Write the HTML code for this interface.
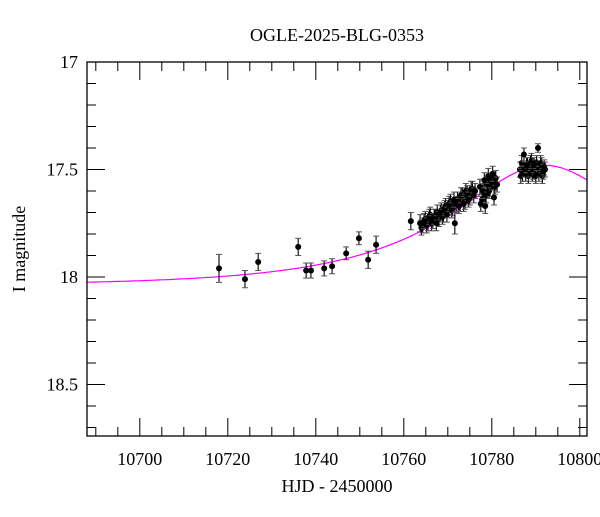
<!DOCTYPE html>
<html><head><meta charset="utf-8"><style>
body{margin:0;background:#fff}
svg text{font-family:"Liberation Serif",serif;fill:#000}
</style></head><body>
<svg id="chart" width="600" height="512" xmlns="http://www.w3.org/2000/svg">
<text x="337" y="41" font-size="18" text-anchor="middle">OGLE-2025-BLG-0353</text>
<g id="ticks"></g>
<path id="model" fill="none" stroke="#ff00ff" stroke-width="1.2"/>
<g id="pts"></g>
<rect x="87" y="62" width="500" height="374" fill="none" stroke="#000" stroke-width="1.3"/>
<text x="337" y="492" font-size="18" text-anchor="middle">HJD - 2450000</text>
<text transform="translate(25,249) rotate(-90)" font-size="18" text-anchor="middle">I magnitude</text>
</svg>
<script>
const hjd=[10718.0,10723.9,10726.9,10736.0,10737.8,10738.9,10741.9,10743.7,10746.9,10749.8,10751.9,10753.7,10761.6,
10763.7,10764.0,10764.3,10764.6,10764.9,10765.2,10765.5,10765.8,10766.0,10766.3,10766.6,10766.9,10767.1,10767.4,10767.6,10767.9,10768.0,10768.3,10768.5,10768.8,10769.0,10769.3,10769.5,10769.8,10770.0,10770.3,10770.6,10770.9,10771.1,10771.4,10771.6,10771.9,10772.2,10772.5,10772.8,10773.0,10773.3,10773.6,10773.9,10774.1,10774.4,10774.7,10775.0,10775.3,10775.6,10775.9,10776.2,
10777.3,10777.5,10777.8,10778.0,10778.3,10778.5,10778.7,10779.0,10779.2,10779.4,10779.6,10779.8,10780.0,10780.2,10780.5,10780.7,10780.9,10781.2,
10786.4,10786.6,10786.8,10787.0,10787.3,10787.5,10787.7,10787.9,10788.1,10788.3,10788.5,10788.8,10789.0,10789.2,10789.4,10789.6,10789.8,10790.0,10790.2,10790.5,10790.7,10790.9,10791.1,10791.3,10791.5,10791.7,10791.9,10792.1];
const mag=[17.96,18.01,17.93,17.86,17.97,17.97,17.96,17.95,17.89,17.82,17.92,17.85,17.74,
17.75,17.77,17.76,17.74,17.73,17.76,17.75,17.72,17.71,17.75,17.74,17.72,17.72,17.75,17.70,17.73,17.73,17.70,17.69,17.72,17.71,17.68,17.67,17.71,17.69,17.66,17.65,17.69,17.68,17.64,17.75,17.66,17.64,17.67,17.66,17.62,17.62,17.66,17.65,17.60,17.61,17.64,17.63,17.59,17.59,17.62,17.60,
17.58,17.66,17.64,17.60,17.55,17.67,17.62,17.57,17.53,17.60,17.59,17.55,17.56,17.52,17.63,17.58,17.54,17.57,
17.50,17.53,17.47,17.52,17.43,17.50,17.52,17.48,17.48,17.53,17.50,17.47,17.46,17.52,17.51,17.48,17.49,17.53,17.47,17.40,17.52,17.50,17.47,17.48,17.53,17.51,17.49,17.50];
const err=[0.065,0.04,0.04,0.04,0.035,0.035,0.035,0.035,0.03,0.03,0.04,0.04,0.04,
0.04,0.035,0.035,0.035,0.035,0.035,0.035,0.035,0.035,0.035,0.035,0.035,0.035,0.035,0.035,0.035,0.035,0.035,0.035,0.035,0.035,0.035,0.035,0.035,0.035,0.035,0.035,0.035,0.035,0.035,0.05,0.035,0.035,0.035,0.035,0.035,0.035,0.035,0.035,0.035,0.035,0.035,0.035,0.035,0.035,0.035,0.035,
0.035,0.035,0.035,0.035,0.035,0.035,0.035,0.035,0.035,0.035,0.035,0.035,0.035,0.035,0.035,0.035,0.035,0.035,
0.035,0.035,0.035,0.035,0.03,0.035,0.035,0.035,0.035,0.035,0.035,0.035,0.035,0.035,0.035,0.035,0.035,0.035,0.035,0.02,0.035,0.035,0.035,0.035,0.035,0.035,0.035,0.035];
const xTicks=[10700,10720,10740,10760,10780,10800];
const yTicks=[17,17.5,18,18.5];
const model={t0:10792,u0:0.5,tE:40,fs:0.57,m0:18.04};
const X=t=>87+(t-10688)*4.4;
const Y=m=>62+(m-17)*215;
const NS="http://www.w3.org/2000/svg";
function mk(tag,attrs,parent){const e=document.createElementNS(NS,tag);for(const k in attrs)e.setAttribute(k,attrs[k]);parent.appendChild(e);return e;}
const tg=document.getElementById('ticks');
for(let t=10690;t<=10800;t+=5){const maj=t%20===0;const len=maj?18:9;
const a=mk('line',{x1:X(t),x2:X(t),y1:436,y2:436-len,stroke:'#000'},tg);


const b=mk('line',{x1:X(t),x2:X(t),y1:62,y2:62+len,stroke:'#000'},tg);

}
xTicks.forEach(t=>{const l=mk('text',{x:X(t),y:465,'font-size':18,'text-anchor':'middle'},tg);l.textContent=t;

});
for(let i=0;i<=17;i++){const m=17+i*0.1;const maj=i%5===0;const len=maj?18:9;
const a=mk('line',{x1:87,x2:87+len,y1:Y(m),y2:Y(m),stroke:'#000'},tg);


const b=mk('line',{x1:587,x2:587-len,y1:Y(m),y2:Y(m),stroke:'#000'},tg);

}
yTicks.forEach(m=>{const l=mk('text',{x:78,y:Y(m)+6,'font-size':18,'text-anchor':'end'},tg);l.textContent=m;

});
let d='';
for(let t=10688;t<=10801.8;t+=0.5){const u=Math.sqrt(model.u0**2+((t-model.t0)/model.tE)**2);
const A=(u*u+2)/(u*Math.sqrt(u*u+4));const m=model.m0-2.5*Math.log10(model.fs*A+1-model.fs);
d+=(d?'L':'M')+X(t).toFixed(1)+','+Y(m).toFixed(1);}
document.getElementById('model').setAttribute('d',d);
const pg=document.getElementById('pts');
hjd.forEach((t,i)=>{const g=mk('g',{},pg);


const x=X(t),y=Y(mag[i]),e=err[i]*215;
mk('line',{x1:x,x2:x,y1:y-e,y2:y+e,stroke:'#000','stroke-width':1.1},g);
mk('line',{x1:x-3,x2:x+3,y1:y-e,y2:y-e,stroke:'#555','stroke-width':1},g);
mk('line',{x1:x-3,x2:x+3,y1:y+e,y2:y+e,stroke:'#555','stroke-width':1},g);
mk('circle',{cx:x,cy:y,r:3,fill:'#000'},g);});
</script>
</body></html>
